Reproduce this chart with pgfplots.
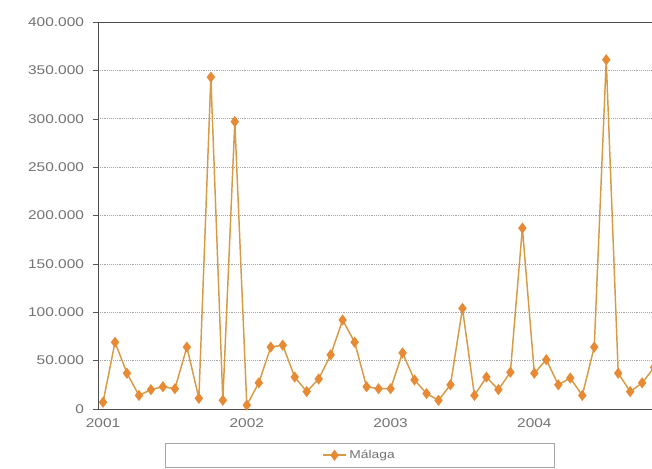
\documentclass[border=0pt]{standalone}
\usepackage{fontspec}
\setmainfont{Liberation Sans}[FakeStretch=1.22]
\usepackage{pgfplots}
\pgfplotsset{compat=1.18}

\definecolor{lineor}{RGB}{215,155,70}
\definecolor{markor}{RGB}{232,138,52}
\definecolor{txtgray}{RGB}{115,115,115}

\begin{document}
\begin{tikzpicture}
% crop like the scanned page
\clip (-73.5pt,-44.25pt) rectangle ++(489pt,351pt);
\fill[white] (-73.5pt,-44.25pt) rectangle ++(489pt,351pt);
\begin{axis}[
    scale only axis,
    width=426.1pt, height=290.25pt,
    xmin=-0.42, xmax=47,
    ymin=0, ymax=400000,
    ytick={0,50000,...,400000},
    xtick={0,12,24,36},
    xticklabels={2001,2002,2003,2004},
    xtick style={draw=none},
    ytick style={draw=gray!70!black},
    tick align=outside,
    major tick length=4pt,
    ymajorgrids,
    grid style={densely dotted, gray!70},
    axis line style={gray!60!black, line width=0.6pt},
    scaled y ticks=false,
    yticklabel={\pgfmathprintnumber[fixed, precision=0, 1000 sep={.}, assume math mode=true]{\tick}},
    tick label style={font=\fontsize{9.5}{11}\selectfont, text=txtgray},
    yticklabel style={xshift=-3pt},
    legend style={at={(0.461,-0.088)}, anchor=north,
        draw=gray!70, line width=0.5pt,
        inner xsep=118pt, inner ysep=3pt,
        font=\fontsize{8.5}{10}\selectfont, text=txtgray},
]
\addplot[color=lineor, line width=1.1pt, mark=diamond*, mark size=3.3pt,
    mark options={fill=markor, draw=markor}]
coordinates {
(0,7000) (1,69000) (2,37000) (3,14000) (4,20000) (5,23000) (6,21000)
(7,64000) (8,11000) (9,343000) (10,9000) (11,297000) (12,4000)
(13,27000) (14,64000) (15,66000) (16,33000) (17,18000) (18,31000)
(19,56000) (20,92000) (21,69000) (22,23000) (23,21000) (24,21000)
(25,58000) (26,30000) (27,16000) (28,9000) (29,25000) (30,104000)
(31,14000) (32,33000) (33,20000) (34,38000) (35,187000) (36,37000)
(37,51000) (38,25000) (39,32000) (40,14000) (41,64000) (42,361000)
(43,37000) (44,18000) (45,27000) (46,43000)
};
\legend{Málaga}
\end{axis}
\end{tikzpicture}
\end{document}
